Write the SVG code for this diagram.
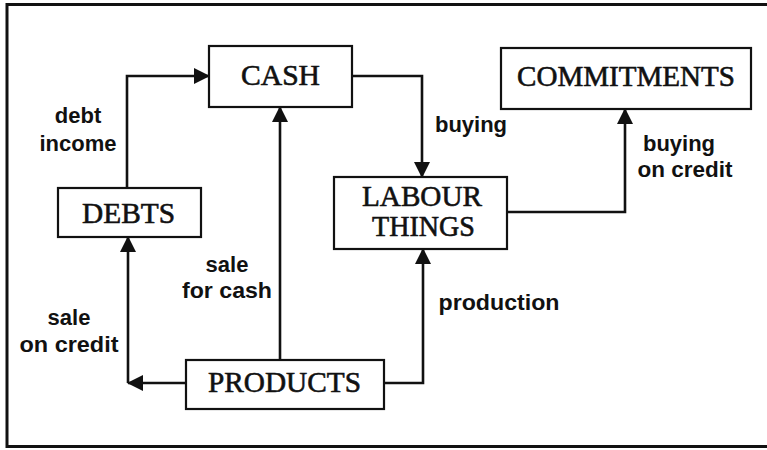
<svg xmlns="http://www.w3.org/2000/svg" width="767" height="450" viewBox="0 0 767 450">
<style>
.box{fill:#fff;stroke:#111;stroke-width:2.2}
.frame{fill:none;stroke:#111;stroke-width:3}
.t{font-family:"Liberation Serif","Times New Roman",serif;font-size:29.5px;fill:#111;stroke:#111;stroke-width:0.6;text-anchor:middle}
.lb{font-family:"Liberation Sans",Arial,sans-serif;font-size:22px;font-weight:bold;fill:#111;text-anchor:middle}
.c{fill:none;stroke:#111;stroke-width:2.6}
</style>
<defs>
<marker id="ah" viewBox="0 0 16 16" refX="15" refY="8" markerWidth="16" markerHeight="16" markerUnits="userSpaceOnUse" orient="auto">
<path d="M0,0 L16,8 L0,16 Z" fill="#111"/>
</marker>
</defs>
<rect width="767" height="450" fill="#fff"/>
<path class="frame" d="M767,4.5 H7 V446.5 H767"/>
<g id="connectors">
<path class="c" d="M127,188 V76 H209" marker-end="url(#ah)"/>
<path class="c" d="M352,76 H422 V177" marker-end="url(#ah)"/>
<path class="c" d="M507,212 H625 V109" marker-end="url(#ah)"/>
<path class="c" d="M280,360 V107" marker-end="url(#ah)"/>
<path class="c" d="M186,383 H128" marker-end="url(#ah)"/>
<path class="c" d="M128,383 V237" marker-end="url(#ah)"/>
<path class="c" d="M384,383 H423 V249" marker-end="url(#ah)"/>
<text class="lb" x="78" y="123">debt</text>
<text class="lb" x="78" y="151">income</text>
<text class="lb" x="471" y="132">buying</text>
<text class="lb" x="679" y="151">buying</text>
<text class="lb" x="685" y="177" textLength="95" lengthAdjust="spacingAndGlyphs">on credit</text>
<text class="lb" x="227" y="272">sale</text>
<text class="lb" x="227" y="298" textLength="90" lengthAdjust="spacingAndGlyphs">for cash</text>
<text class="lb" x="69" y="325">sale</text>
<text class="lb" x="69" y="352" textLength="99" lengthAdjust="spacingAndGlyphs">on credit</text>
<text class="lb" x="499" y="310" textLength="121" lengthAdjust="spacingAndGlyphs">production</text>
</g>
<g id="cash">
<rect class="box" x="209" y="46" width="143" height="61"/>
<text class="t" x="280.5" y="85" textLength="79" lengthAdjust="spacingAndGlyphs">CASH</text>
</g>
<g id="commitments">
<rect class="box" x="501" y="48" width="250" height="61"/>
<text class="t" x="626" y="86" textLength="218" lengthAdjust="spacingAndGlyphs">COMMITMENTS</text>
</g>
<g id="debts">
<rect class="box" x="58" y="188" width="143" height="49"/>
<text class="t" x="128.5" y="223" textLength="93" lengthAdjust="spacingAndGlyphs">DEBTS</text>
</g>
<g id="labour-things">
<rect class="box" x="334" y="177" width="173" height="72"/>
<text class="t" x="422" y="206" textLength="120" lengthAdjust="spacingAndGlyphs">LABOUR</text>
<text class="t" x="423.5" y="236" textLength="103" lengthAdjust="spacingAndGlyphs">THINGS</text>
</g>
<g id="products">
<rect class="box" x="186" y="360" width="198" height="49"/>
<text class="t" x="284.5" y="392" textLength="153" lengthAdjust="spacingAndGlyphs">PRODUCTS</text>
</g>
</svg>
